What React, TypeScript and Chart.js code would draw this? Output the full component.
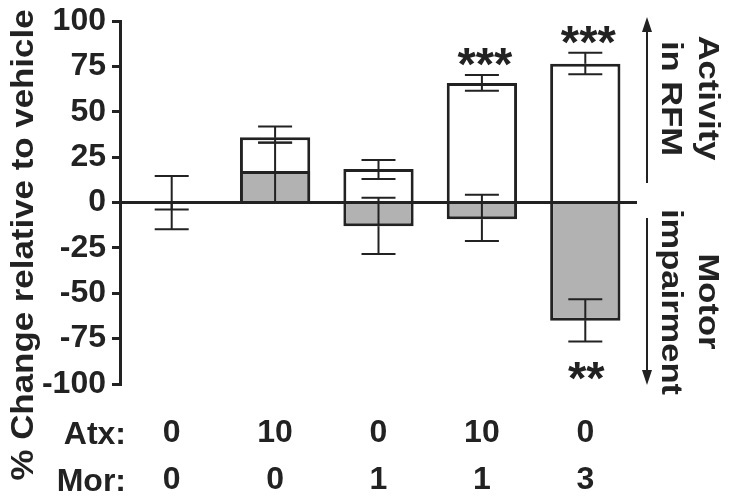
import React, { useEffect, useRef } from 'react';
import { Chart, registerables } from 'chart.js';

Chart.register(...registerables);

// ---- data ----
const atxDoses = ['0', '10', '0', '10', '0'];
const morDoses = ['0', '0', '1', '1', '3'];
const activityValues = [0, 36, 18.5, 66, 76.6];
const activityErrUp = [14.7, 6, 5, 4.3, 6];
const activityErrDown = [14.7, 3, 5.5, 4.4, 5.9];
const motorValues = [0, 17.4, -13, -9.2, -65.2];
const motorErrUp = [0, 15.8, 15.7, 13.5, 11.9];
const motorErrDown = [3.8, 17.4, 15.3, 12, 11.4];
const starsAbove = ['', '', '', '***', '***'];
const starsBelow = ['', '', '', '', '**'];
const yTickValues = [100, 75, 50, 25, 0, -25, -50, -75, -100];
const yTitle = '% Change relative to vehicle';
const rowLabels = ['Atx:', 'Mor:'];
const upLabel = ['Activity', 'in RFM'];
const downLabel = ['Motor', 'impairment'];

const FONT = '"Liberation Sans", Arial, Helvetica, sans-serif';
const INK = '#222222';
const GREY = '#b2b2b2';

const decorPlugin = {
  id: 'decor',
  afterDatasetsDraw(chart: any) {
    const ctx = chart.ctx;
    const ys = chart.scales.y;
    const area = chart.chartArea;
    ctx.save();

    // zero line across the plot, on top of the bars
    const yZero = ys.getPixelForValue(0);
    ctx.strokeStyle = INK;
    ctx.lineWidth = 3;
    ctx.beginPath();
    ctx.moveTo(area.left, yZero);
    ctx.lineTo(area.right, yZero);
    ctx.stroke();

    const series = [
      { idx: 0, vals: activityValues, up: activityErrUp, down: activityErrDown },
      { idx: 1, vals: motorValues, up: motorErrUp, down: motorErrDown },
    ];
    ctx.lineWidth = 2;
    const capHalf = 17;
    series.forEach((s) => {
      const meta = chart.getDatasetMeta(s.idx);
      meta.data.forEach((el: any, i: number) => {
        const x = el.x;
        const v = s.vals[i];
        const y0 = ys.getPixelForValue(v);
        if (s.up[i] > 0) {
          const y1 = ys.getPixelForValue(v + s.up[i]);
          ctx.beginPath();
          ctx.moveTo(x, y0);
          ctx.lineTo(x, y1);
          ctx.moveTo(x - capHalf, y1);
          ctx.lineTo(x + capHalf, y1);
          ctx.stroke();
        }
        if (s.down[i] > 0) {
          const y1 = ys.getPixelForValue(v - s.down[i]);
          ctx.beginPath();
          ctx.moveTo(x, y0);
          ctx.lineTo(x, y1);
          ctx.moveTo(x - capHalf, y1);
          ctx.lineTo(x + capHalf, y1);
          ctx.stroke();
        }
      });
    });

    // significance stars
    ctx.fillStyle = INK;
    ctx.font = `bold 47px ${FONT}`;
    ctx.textAlign = 'center';
    ctx.textBaseline = 'alphabetic';
    const metaA = chart.getDatasetMeta(0);
    const metaM = chart.getDatasetMeta(1);
    const drawCentered = (txt: string, x: number, yMid: number) => {
      const m = ctx.measureText(txt);
      const asc = m.actualBoundingBoxAscent;
      const desc = m.actualBoundingBoxDescent;
      ctx.fillText(txt, x, yMid + (asc - desc) / 2);
    };
    starsAbove.forEach((t, i) => {
      if (!t) return;
      const x = metaA.data[i].x + 3;
      const yc = ys.getPixelForValue(activityValues[i] + activityErrUp[i]) - 18;
      drawCentered(t, x, yc);
    });
    starsBelow.forEach((t, i) => {
      if (!t) return;
      const x = metaM.data[i].x + 1;
      const yc = ys.getPixelForValue(motorValues[i] - motorErrDown[i]) + 29;
      drawCentered(t, x, yc);
    });
    ctx.restore();
  },
  afterDraw(chart: any) {
    const ctx = chart.ctx;
    ctx.save();
    ctx.fillStyle = INK;
    ctx.strokeStyle = INK;

    // y-axis title
    ctx.save();
    ctx.font = `bold 32px ${FONT}`;
    ctx.textAlign = 'center';
    ctx.textBaseline = 'alphabetic';
    ctx.translate(33, 245);
    ctx.rotate(-Math.PI / 2);
    ctx.scale(1.09, 1);
    ctx.fillText(yTitle, 0, 0);
    ctx.restore();

    // row labels
    ctx.font = `bold 32px ${FONT}`;
    ctx.textAlign = 'right';
    ctx.textBaseline = 'alphabetic';
    ctx.fillText(rowLabels[0], 126, 444);
    ctx.fillText(rowLabels[1], 126, 491);

    // right-side labels (rotated clockwise)
    const drawRot = (txt: string, x: number, y: number) => {
      ctx.save();
      ctx.font = `bold 30px ${FONT}`;
      ctx.textAlign = 'center';
      ctx.textBaseline = 'alphabetic';
      ctx.translate(x, y);
      ctx.rotate(Math.PI / 2);
      ctx.scale(1.15, 1);
      ctx.fillText(txt, 0, 0);
      ctx.restore();
    };
    drawRot(upLabel[0], 698.5, 98);
    drawRot(upLabel[1], 662, 98.5);
    drawRot(downLabel[0], 698.5, 301.5);
    drawRot(downLabel[1], 662, 302);

    // arrows
    const ax = 647;
    ctx.lineWidth = 2;
    ctx.beginPath();
    ctx.moveTo(ax, 183);
    ctx.lineTo(ax, 28);
    ctx.stroke();
    ctx.beginPath();
    ctx.moveTo(ax, 17);
    ctx.lineTo(ax - 5, 32);
    ctx.lineTo(ax + 5, 32);
    ctx.closePath();
    ctx.fill();

    ctx.beginPath();
    ctx.moveTo(ax, 218);
    ctx.lineTo(ax, 374);
    ctx.stroke();
    ctx.beginPath();
    ctx.moveTo(ax, 385);
    ctx.lineTo(ax - 5, 370);
    ctx.lineTo(ax + 5, 370);
    ctx.closePath();
    ctx.fill();

    ctx.restore();
  },
};

export default function App() {
  const ref = useRef<HTMLCanvasElement | null>(null);
  useEffect(() => {
    if (!ref.current) return;
    const labels = atxDoses.map((a, i) => [a, morDoses[i]]);
    const chart = new Chart(ref.current, {
      type: 'bar',
      data: {
        labels,
        datasets: [
          {
            label: 'Activity in RFM',
            data: activityValues,
            backgroundColor: '#ffffff',
            borderColor: INK,
            borderWidth: 3,
            borderSkipped: 'start',
            grouped: false,
            order: 1,
            barPercentage: 0.68,
            categoryPercentage: 1,
          } as any,
          {
            label: 'Motor impairment',
            data: motorValues,
            backgroundColor: GREY,
            borderColor: INK,
            borderWidth: 3,
            borderSkipped: 'start',
            grouped: false,
            order: 0,
            barPercentage: 0.68,
            categoryPercentage: 1,
          } as any,
        ],
      },
      options: {
        responsive: false,
        devicePixelRatio: 1,
        animation: false,
        events: [],
        layout: { padding: { left: 0, top: 16, right: 97, bottom: 0 } },
        plugins: {
          legend: { display: false },
          tooltip: { enabled: false },
          title: { display: false },
        },
        scales: {
          x: {
            offset: true,
            grid: { display: false, drawTicks: false },
            border: { display: false },
            ticks: {
              color: INK,
              padding: 25.5,
              maxRotation: 0,
              autoSkip: false,
              font: { family: FONT, size: 32, weight: 'bold', lineHeight: 1.47 },
            },
            afterFit: (s: any) => {
              s.height = 118;
            },
          },
          y: {
            min: -100,
            max: 100,
            afterBuildTicks: (s: any) => {
              s.ticks = yTickValues.map((v) => ({ value: v }));
            },
            grid: {
              color: 'rgba(0,0,0,0)',
              lineWidth: 3,
              tickColor: INK,
              tickWidth: 3,
              tickLength: 8,
              drawTicks: true,
            },
            border: { display: true, color: INK, width: 3 },
            ticks: {
              color: INK,
              padding: 6,
              font: { family: FONT, size: 32, weight: 'bold', lineHeight: 0.95 },
            },
            afterFit: (s: any) => {
              s.width = 120;
            },
          },
        },
      },
      plugins: [decorPlugin],
    } as any);
    return () => chart.destroy();
  }, []);
  return (
    <div style={{ position: 'fixed', left: 0, top: 0, width: 734, height: 502, background: '#fff' }}>
      <canvas ref={ref} width={734} height={502} style={{ display: 'block', width: 734, height: 502 }} />
    </div>
  );
}
